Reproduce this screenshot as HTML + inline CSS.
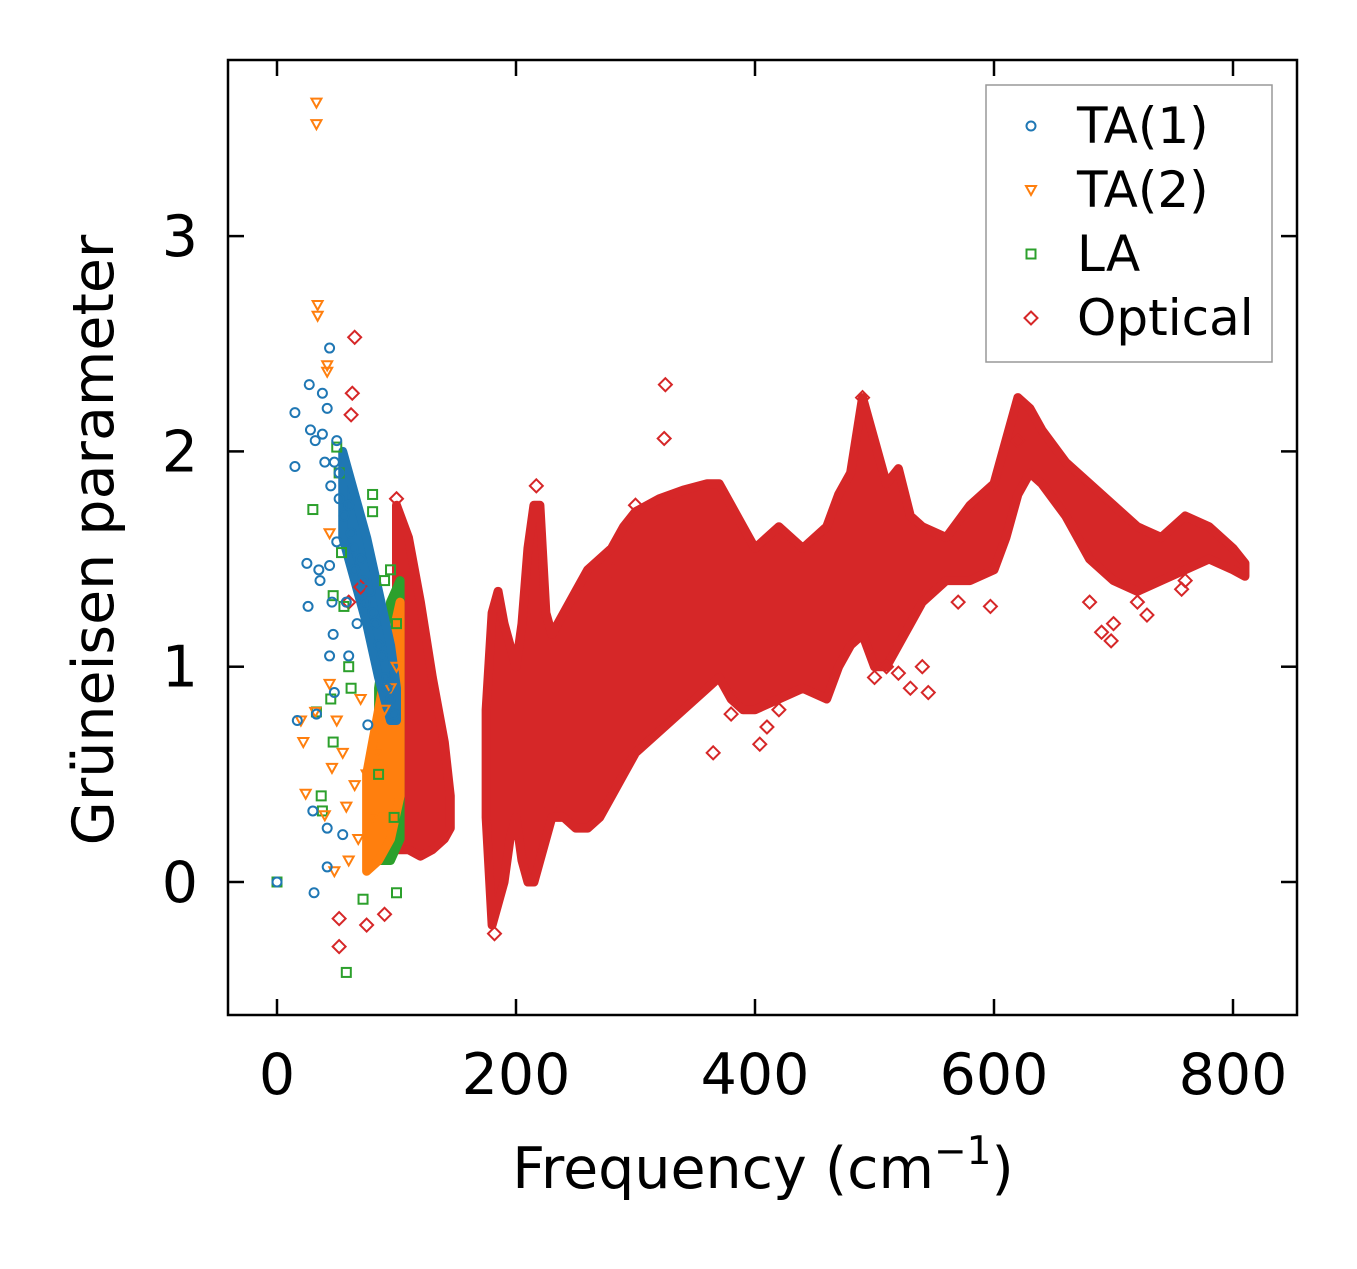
<!DOCTYPE html>
<html><head><meta charset="utf-8"><style>
body{margin:0;background:#fff}
svg text{font-family:"DejaVu Sans","Liberation Sans",sans-serif;fill:#000}
</style></head><body>
<svg id="chart" width="1357" height="1264" viewBox="0 0 1357 1264" xmlns="http://www.w3.org/2000/svg">
<rect width="1357" height="1264" fill="#fff"/>
<g id="bands"></g>
<g id="points"></g>
<rect x="228" y="60" width="1069" height="955" fill="none" stroke="#000" stroke-width="2.5"/>
<g id="ticks"></g>
<text x="763" y="1188" font-size="57" text-anchor="middle">Frequency (cm<tspan font-size="39" dy="-24">−1</tspan><tspan dy="24">)</tspan></text>
<text transform="translate(113,540) rotate(-90)" font-size="57" text-anchor="middle">Grüneisen parameter</text>
<g>
<rect x="986" y="85" width="286" height="277" fill="#fff" stroke="#999" stroke-width="1.5"/>
<g id="legend-items"></g>
</g>
</svg>
<script>
const xTicks=[0,200,400,600,800];
const yTicks=[0,1,2,3];
const seriesNames=["TA(1)","TA(2)","LA","Optical"];
const seriesColors=["#1f77b4","#ff7f0e","#2ca02c","#d62728"];
const markerShapes=["circle","tri","square","diamond"];
// optical dense band envelope
const optFreq1=[100,110,120,130,140,145];
const optLow1=[0.15,0.15,0.12,0.15,0.2,0.25];
const optHigh1=[1.75,1.6,1.3,0.95,0.65,0.4];
const optFreq2=[175,180,185,190,195,200,205,210,215,220,225,230,240,250,260,270,280,290,300,310,320,340,360,370,380,390,400,420,440,460,470,480,490,500,510,520,530,540,560,580,600,610,620,630,640,660,680,700,720,740,760,780,800,810];
const optLow2=[0.3,-0.2,-0.1,0.0,0.2,0.3,0.1,0.0,0.0,0.1,0.2,0.3,0.3,0.25,0.25,0.3,0.4,0.5,0.6,0.65,0.7,0.8,0.9,0.95,0.85,0.8,0.8,0.85,0.9,0.85,1.0,1.1,1.15,1.0,1.0,1.1,1.2,1.3,1.4,1.4,1.45,1.6,1.8,1.9,1.85,1.7,1.5,1.4,1.35,1.4,1.45,1.5,1.45,1.42];
const optHigh2=[0.8,1.25,1.35,1.2,1.1,1.0,1.2,1.55,1.75,1.75,1.25,1.15,1.25,1.35,1.45,1.5,1.55,1.65,1.72,1.75,1.78,1.82,1.85,1.85,1.75,1.65,1.55,1.65,1.55,1.65,1.8,1.9,2.25,2.05,1.85,1.92,1.7,1.65,1.6,1.75,1.85,2.05,2.25,2.2,2.1,1.95,1.85,1.75,1.65,1.6,1.7,1.65,1.55,1.48];
const ta1BandFreq=[55,65,75,85,95,100];
const ta1BandLow=[1.6,1.4,1.2,0.95,0.75,0.75];
const ta1BandHigh=[2.0,1.8,1.6,1.35,1.1,0.9];
const ta2BandFreq=[75,85,95,103];
const ta2BandLow=[0.05,0.1,0.2,0.4];
const ta2BandHigh=[0.5,0.8,1.1,1.3];
const laBandFreq=[85,95,103];
const laBandLow=[0.1,0.1,0.2];
const laBandHigh=[0.9,1.3,1.4];
const ta1F=[0,15,15,17,25,26,27,28,30,31,32,33,35,36,38,38,40,42,42,42,44,44,44,45,46,47,48,48,50,50,52,52,55,56,58,60,60,62,64,65,67,70,72,74,76,78,80,82,85,88,90,92,95,98];
const ta1G=[0,2.18,1.93,0.75,1.48,1.28,2.31,2.1,0.33,-0.05,2.05,0.78,1.45,1.4,2.27,2.08,1.95,2.2,0.25,0.07,2.48,1.47,1.05,1.84,1.3,1.15,1.95,0.88,2.05,1.58,1.78,1.9,0.22,1.7,1.3,1.75,1.05,1.62,1.55,1.45,1.2,1.5,1.4,1.3,0.73,1.35,1.25,1.2,1.1,1.05,0.95,0.9,0.85,0.78];
const ta2F=[33,33,34,34,42,42,44,20,22,24,32,40,44,46,48,50,55,58,60,65,68,70,75,80,85,90,95,100];
const ta2G=[3.62,3.52,2.68,2.63,2.4,2.37,1.62,0.75,0.65,0.41,0.79,0.31,0.92,0.53,0.05,0.75,0.6,0.35,0.1,0.45,0.2,0.85,0.5,0.3,0.6,0.8,0.9,1.0];
const laF=[0,30,33,37,38,45,47,47,50,52,54,56,58,60,62,72,80,80,85,90,95,100,100,98];
const laG=[0,1.73,0.79,0.4,0.33,0.85,1.33,0.65,2.02,1.9,1.53,1.28,-0.42,1.0,0.9,-0.08,1.8,1.72,0.5,1.4,1.45,-0.05,1.2,0.3];
const optF=[65,63,62,52,52,75,90,325,324,217,365,404,490,545,530,597,690,698,728,757,182,100,70,60,410,420,380,500,510,540,620,680,700,720,760,300,280,230,520,570];
const optG=[2.53,2.27,2.17,-0.17,-0.3,-0.2,-0.15,2.31,2.06,1.84,0.6,0.64,2.25,0.88,0.9,1.28,1.16,1.12,1.24,1.36,-0.24,1.78,1.37,1.3,0.72,0.8,0.78,0.95,1.0,1.0,2.05,1.3,1.2,1.3,1.4,1.75,1.45,0.35,0.97,1.3];

const NS="http://www.w3.org/2000/svg";
function sx(f){return 277+f*1.195;}
function sy(g){return 882-g*215.3;}
function mk(tag,attrs,parent){const e=document.createElementNS(NS,tag);for(const k in attrs)e.setAttribute(k,attrs[k]);parent.appendChild(e);return e;}
const bands=document.getElementById('bands');
function band(fr,lo,hi,color,name){
  let p=fr.map((f,i)=>sx(f)+','+sy(hi[i]));
  for(let i=fr.length-1;i>=0;i--)p.push(sx(fr[i])+','+sy(lo[i]));
  const e=mk('polygon',{points:p.join(' '),fill:color,stroke:color,'stroke-width':9,'stroke-linejoin':'round'},bands);
  
  
}
band(optFreq1,optLow1,optHigh1,seriesColors[3],'optical-band-low');
band(optFreq2,optLow2,optHigh2,seriesColors[3],'optical-band-high');
band(laBandFreq,laBandLow,laBandHigh,seriesColors[2],'la-band');
band(ta2BandFreq,ta2BandLow,ta2BandHigh,seriesColors[1],'ta2-band');
band(ta1BandFreq,ta1BandLow,ta1BandHigh,seriesColors[0],'ta1-band');

function marker(shape,x,y,color,parent){
  let e;
  if(shape==='circle')e=mk('circle',{cx:x,cy:y,r:4.5},parent);
  else if(shape==='tri')e=mk('polygon',{points:`${x-5},${y-4} ${x+5},${y-4} ${x},${y+5}`},parent);
  else if(shape==='square')e=mk('rect',{x:x-4.5,y:y-4.5,width:9,height:9},parent);
  else e=mk('polygon',{points:`${x},${y-6.5} ${x+6.5},${y} ${x},${y+6.5} ${x-6.5},${y}`},parent);
  e.setAttribute('fill','none');e.setAttribute('stroke',color);e.setAttribute('stroke-width','2');
  return e;
}
const pts=document.getElementById('points');
const sets=[[optF,optG,3],[laF,laG,2],[ta2F,ta2G,1],[ta1F,ta1G,0]];
sets.forEach(([F,G,s])=>{F.forEach((f,i)=>{
  const e=marker(markerShapes[s],sx(f),sy(G[i]),seriesColors[s],pts);
  
  
});});

const tk=document.getElementById('ticks');
xTicks.forEach(v=>{const x=sx(v);
  mk('line',{x1:x,x2:x,y1:1015,y2:999,stroke:'#000','stroke-width':2.5},tk);
  mk('line',{x1:x,x2:x,y1:60,y2:76,stroke:'#000','stroke-width':2.5},tk);
  const t=mk('text',{x:x,y:1094,'font-size':57,'text-anchor':'middle'},tk);t.textContent=v;
  
  
});
yTicks.forEach(v=>{const y=sy(v);
  mk('line',{x1:228,x2:244,y1:y,y2:y,stroke:'#000','stroke-width':2.5},tk);
  mk('line',{x1:1297,x2:1281,y1:y,y2:y,stroke:'#000','stroke-width':2.5},tk);
  const t=mk('text',{x:198,y:y+20,'font-size':57,'text-anchor':'end'},tk);t.textContent=v;
  
  
});
const lg=document.getElementById('legend-items');
seriesNames.forEach((n,i)=>{const y=126+i*64;
  const m=marker(markerShapes[i],1031,y,seriesColors[i],lg);
  
  
  const t=mk('text',{x:1077,y:y+17,'font-size':50},lg);t.textContent=n;
  
  
});
</script>
</body></html>
